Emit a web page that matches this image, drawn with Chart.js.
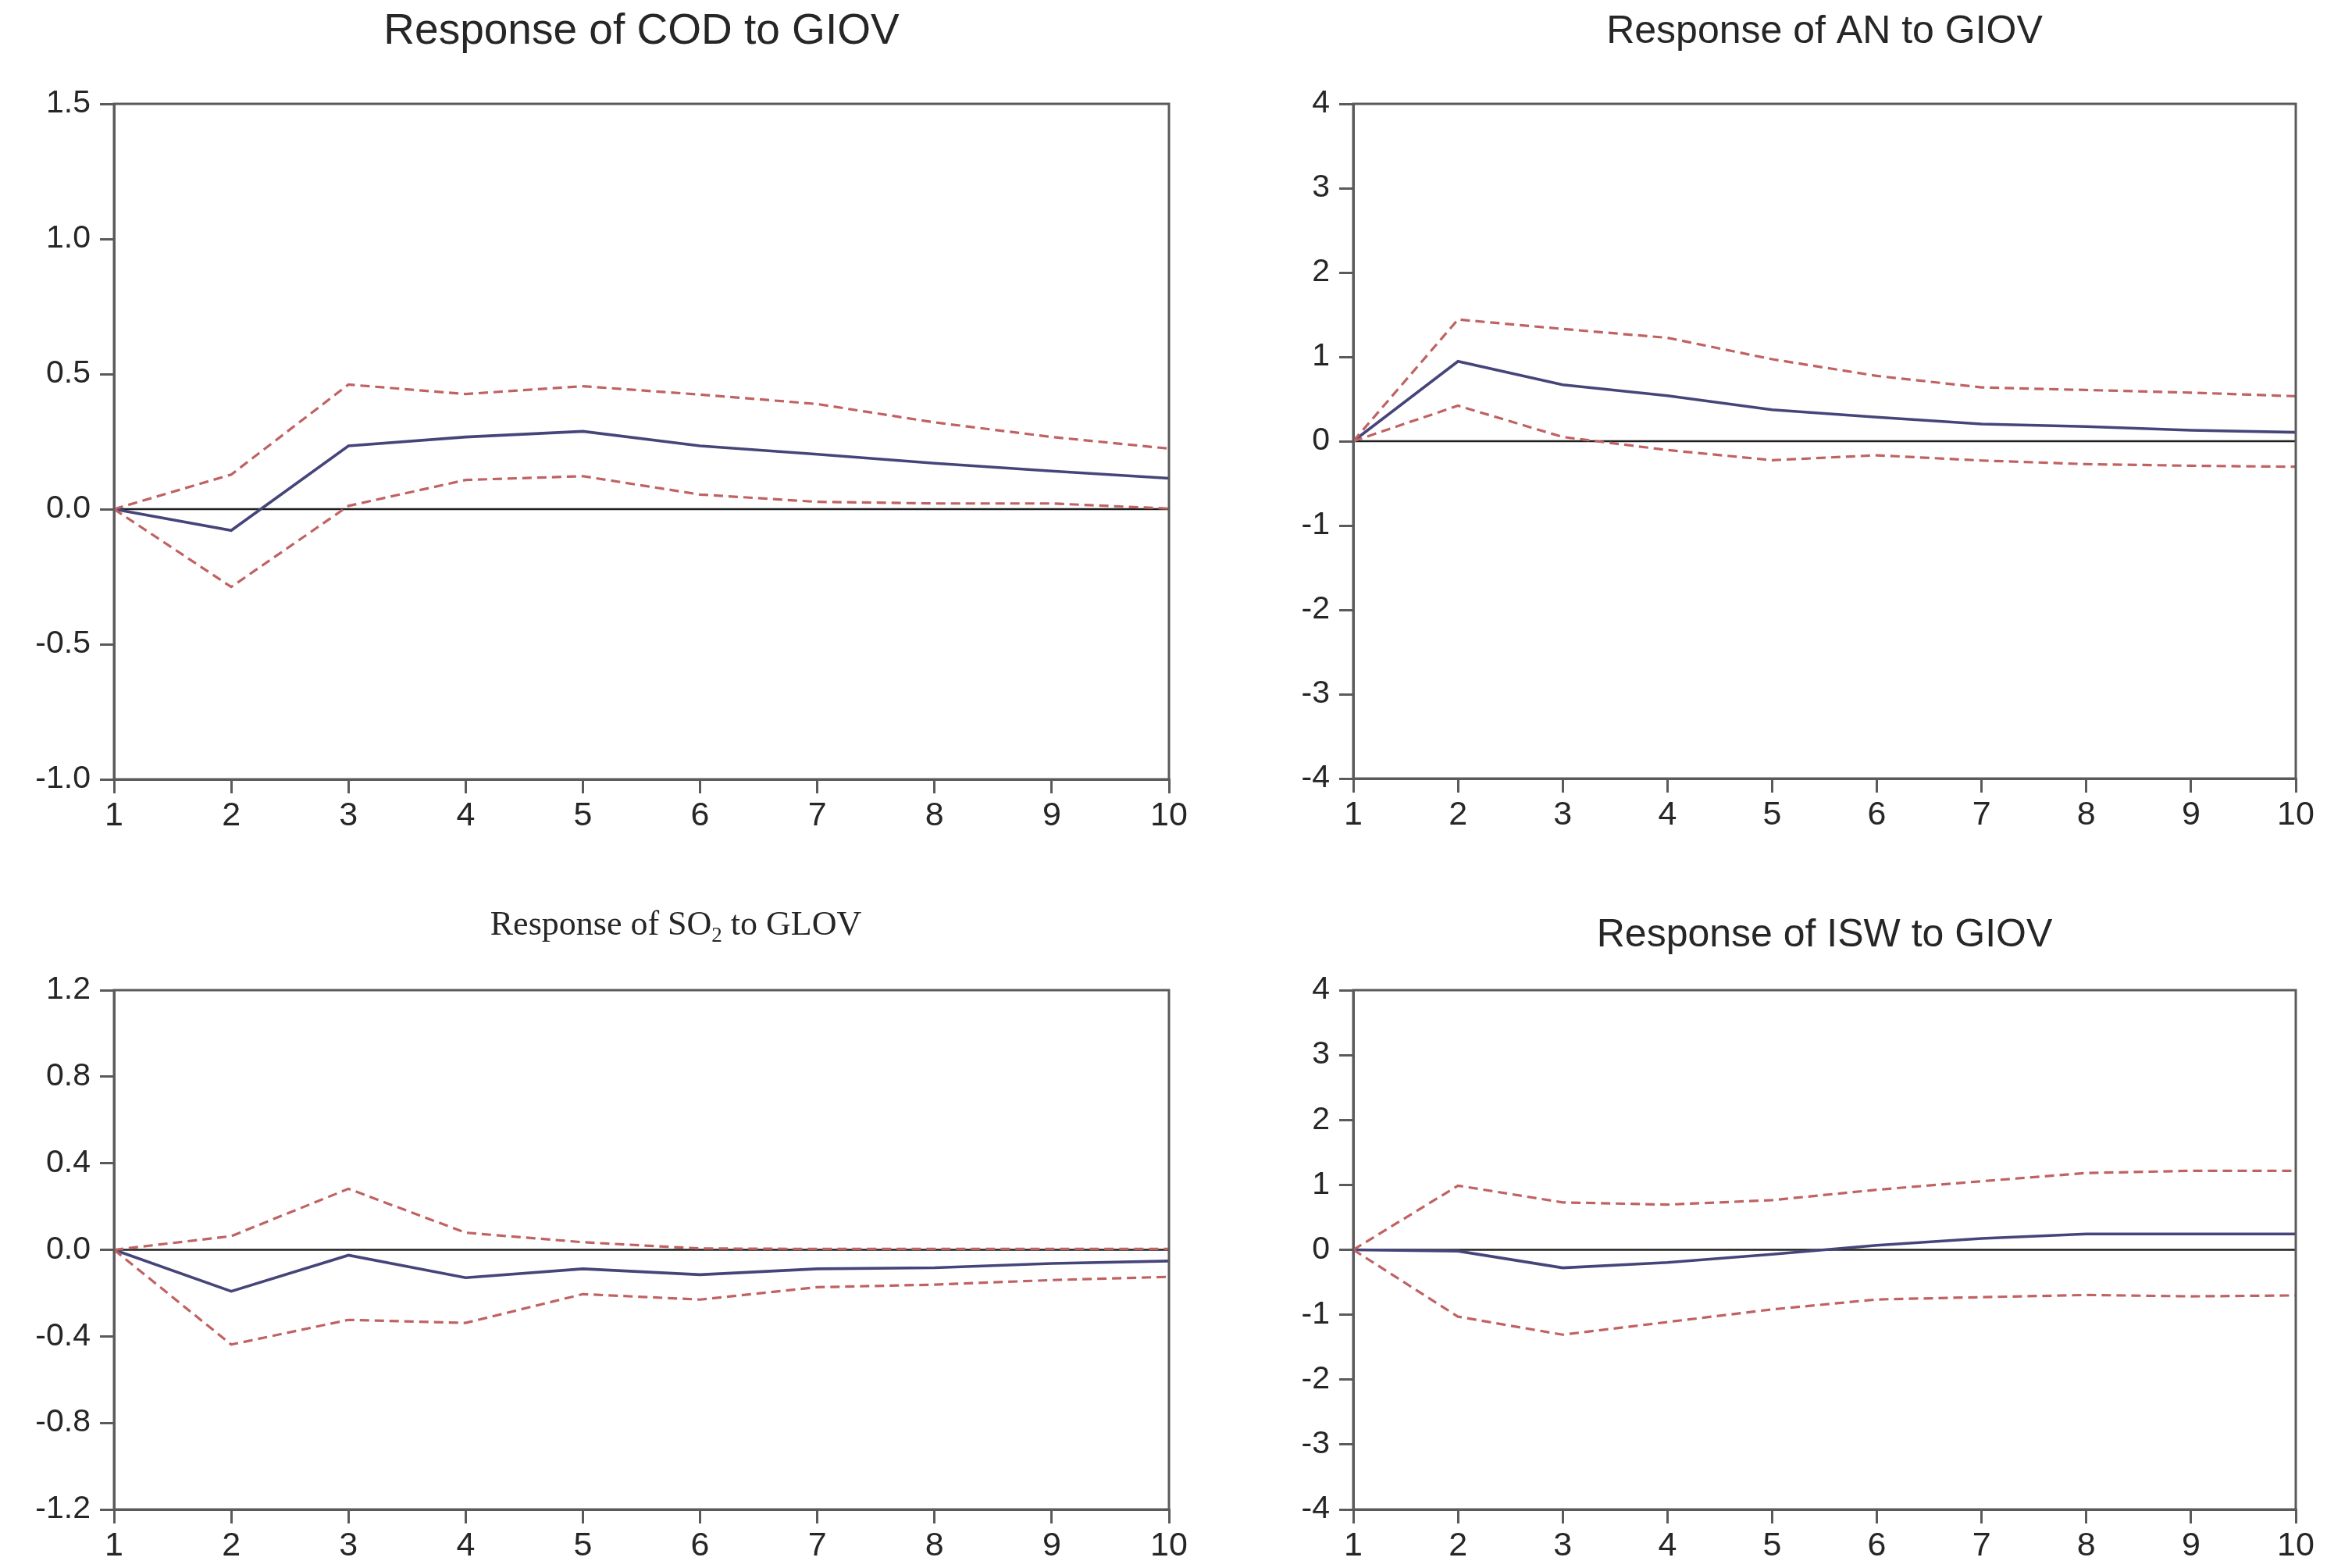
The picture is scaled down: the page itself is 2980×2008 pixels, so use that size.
<!DOCTYPE html>
<html><head><meta charset="utf-8">
<script src="https://cdn.jsdelivr.net/npm/chart.js@4.4.1/dist/chart.umd.min.js"></script>
<style>
html,body{margin:0;padding:0;background:#fff;}
body{width:2980px;height:2008px;position:relative;overflow:hidden;}
canvas{position:absolute;}
</style></head><body>
<canvas id="c0" width="1560" height="1090" style="left:0;top:0"></canvas>
<canvas id="c1" width="1420" height="1090" style="left:1560px;top:0"></canvas>
<canvas id="c2" width="1560" height="918" style="left:0;top:1090px"></canvas>
<canvas id="c3" width="1420" height="918" style="left:1560px;top:1090px"></canvas>
<script>
// ---- data ----
const periods = ['1','2','3','4','5','6','7','8','9','10'];

const codResp  = [0,-0.079,0.234,0.267,0.288,0.234,0.203,0.170,0.141,0.114];
const codUpper = [0, 0.128,0.461,0.426,0.455,0.424,0.389,0.321,0.267,0.224];
const codLower = [0,-0.288,0.012,0.108,0.122,0.054,0.027,0.021,0.021,0.002];

const anResp  = [0,0.947,0.669,0.539,0.372,0.285,0.204,0.173,0.130,0.105];
const anUpper = [0,1.443,1.331,1.226,0.972,0.774,0.638,0.607,0.576,0.533];
const anLower = [0,0.421,0.050,-0.105,-0.225,-0.167,-0.229,-0.272,-0.291,-0.303];

const so2Resp  = [0,-0.192,-0.025,-0.129,-0.088,-0.115,-0.088,-0.083,-0.063,-0.052];
const so2Upper = [0, 0.063, 0.282, 0.079, 0.035, 0.006, 0.004, 0.004, 0.004, 0.004];
const so2Lower = [0,-0.438,-0.324,-0.338,-0.205,-0.230,-0.173,-0.161,-0.140,-0.125];

const iswResp  = [0,-0.020,-0.278,-0.195,-0.070,0.070,0.174,0.243,0.243,0.243];
const iswUpper = [0, 0.988, 0.730, 0.696, 0.765,0.925,1.057,1.183,1.217,1.217];
const iswLower = [0,-1.030,-1.308,-1.113,-0.918,-0.765,-0.730,-0.696,-0.717,-0.703];

const titleCOD = [{t:'Response of COD to GIOV'}];
const titleAN  = [{t:'Response of AN to GIOV'}];
const titleSO2 = [{t:'Response of SO'},{t:'2',sub:true},{t:' to GLOV'}];
const titleISW = [{t:'Response of ISW to GIOV'}];

const yCOD = {min:-1.0, max:1.5, step:0.5, dec:1};
const yAN  = {min:-4, max:4, step:1, dec:0};
const ySO2 = {min:-1.2, max:1.2, step:0.4, dec:1};
const yISW = {min:-4, max:4, step:1, dec:0};

// ---- styling ----
const SANS = '"Liberation Sans", Arial, Helvetica, sans-serif';
const SERIF = '"Liberation Serif", "Times New Roman", serif';
const RESP_COLOR = '#45457a';
const BAND_COLOR = '#c06262';
const AXIS_COLOR = '#5a5a5a';
const TEXT_COLOR = '#262626';

const decor = {
  id:'decor',
  beforeDatasetsDraw(chart){
    const ctx = chart.ctx, a = chart.chartArea, y = chart.scales.y.getPixelForValue(0);
    ctx.save();
    ctx.strokeStyle = '#1e1e1e'; ctx.lineWidth = 2.5;
    ctx.beginPath(); ctx.moveTo(a.left, y); ctx.lineTo(a.right, y); ctx.stroke();
    ctx.restore();
  },
  afterDraw(chart, args, opts){
    const ctx = chart.ctx, a = chart.chartArea;
    ctx.save();
    ctx.strokeStyle = AXIS_COLOR; ctx.lineWidth = 3;
    ctx.strokeRect(a.left, a.top, a.right - a.left, a.bottom - a.top);
    // title
    const f = opts.fontSize, fam = opts.family;
    ctx.fillStyle = TEXT_COLOR; ctx.textBaseline = 'alphabetic'; ctx.textAlign = 'left';
    let total = 0;
    const widths = opts.parts.map(p => {
      ctx.font = (p.sub ? Math.round(f*0.62) : f) + 'px ' + fam;
      const w = ctx.measureText(p.t).width; total += w; return w;
    });
    let x = (a.left + a.right)/2 + (opts.dx || 0) - total/2;
    opts.parts.forEach((p,i) => {
      ctx.font = (p.sub ? Math.round(f*0.62) : f) + 'px ' + fam;
      ctx.fillText(p.t, x, opts.baseline + (p.sub ? f*0.2 : 0));
      x += widths[i];
    });
    ctx.restore();
  }
};

function makeChart(id, W, H, area, yDef, resp, upper, lower, parts, fam, fontSize, baseline, dx){
  const xh = 80;
  const ds = (data, color, width, dash) => ({data, borderColor:color, borderWidth:width, borderDash:dash,
      pointRadius:0, fill:false, tension:0});
  new Chart(document.getElementById(id), {
    type:'line',
    data:{labels:periods, datasets:[
      ds(upper, BAND_COLOR, 3.2, [12,7]),
      ds(lower, BAND_COLOR, 3.2, [12,7]),
      ds(resp, RESP_COLOR, 3.6, [])
    ]},
    plugins:[decor],
    options:{
      responsive:false, devicePixelRatio:1, animation:false,
      layout:{padding:{left:0, top:area.top, right:W-area.right, bottom:H-area.bottom-xh}},
      plugins:{legend:{display:false}, tooltip:{enabled:false},
        decor:{parts, family:fam, fontSize, baseline, dx}},
      scales:{
        x:{type:'category', offset:false,
          afterFit(s){ s.height = xh; },
          grid:{display:true, drawOnChartArea:false, drawTicks:true, tickLength:18, color:AXIS_COLOR, lineWidth:3},
          border:{display:true, color:AXIS_COLOR, width:3},
          ticks:{color:TEXT_COLOR, font:{family:SANS, size:43}, padding:3, maxRotation:0, autoSkip:false}
        },
        y:{min:yDef.min, max:yDef.max,
          afterFit(s){ s.width = area.left; },
          afterBuildTicks(s){
            const t=[]; const n=Math.round((yDef.max-yDef.min)/yDef.step);
            for(let i=0;i<=n;i++) t.push({value:+(yDef.min+i*yDef.step).toFixed(4)});
            s.ticks=t;
          },
          grid:{display:true, drawOnChartArea:false, drawTicks:true, tickLength:18, color:AXIS_COLOR, lineWidth:3},
          border:{display:true, color:AXIS_COLOR, width:3},
          ticks:{color:TEXT_COLOR, font:{family:SANS, size:41}, padding:12,
            callback:(v)=> Number(v).toFixed(yDef.dec)}
        }
      }
    }
  });
}

makeChart('c0',1560,1090,{left:146,right:1497,top:133,bottom:998}, yCOD, codResp, codUpper, codLower, titleCOD, SANS, 55, 56, 0);
makeChart('c1',1420,1090,{left:173,right:1380,top:133,bottom:997}, yAN, anResp, anUpper, anLower, titleAN, SANS, 50, 55, 0);
makeChart('c2',1560,918,{left:146,right:1497,top:178,bottom:843}, ySO2, so2Resp, so2Upper, so2Lower, titleSO2, SERIF, 44, 107, 44);
makeChart('c3',1420,918,{left:173,right:1380,top:178,bottom:843}, yISW, iswResp, iswUpper, iswLower, titleISW, SANS, 50, 122, 0);
</script>
</body></html>
